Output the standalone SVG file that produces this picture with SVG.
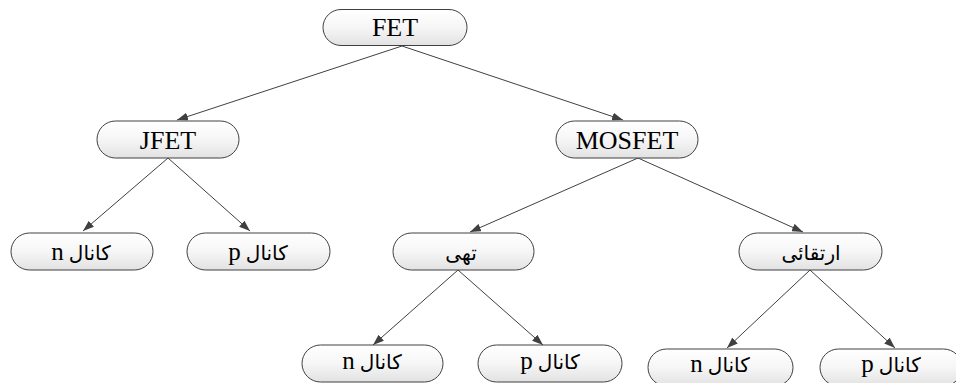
<svg xmlns="http://www.w3.org/2000/svg" width="956" height="383" viewBox="0 0 956 383">
<defs>
<linearGradient id="g" x1="0" y1="0" x2="0" y2="1">
<stop offset="0" stop-color="#ffffff"/>
<stop offset="0.5" stop-color="#f6f6f6"/>
<stop offset="1" stop-color="#e2e2e2"/>
</linearGradient>
<marker id="arr" markerUnits="userSpaceOnUse" markerWidth="11" markerHeight="8" refX="11" refY="4" orient="auto">
<path d="M0,0 L11,4 L0,8 z" fill="#404040"/>
</marker>
</defs>
<style>
.box{fill:url(#g);stroke:#404040;stroke-width:1}
.lat{font-family:"Liberation Serif","Times New Roman",serif;font-size:26px;fill:#000;text-anchor:middle}
.fa{font-family:"Liberation Serif","DejaVu Sans",sans-serif;font-size:20px;fill:#000;text-anchor:middle;direction:rtl;unicode-bidi:embed}
.fa tspan{font-family:"Liberation Serif","Times New Roman",serif;font-size:25px}
.c line{stroke:#404040;stroke-width:1;marker-end:url(#arr)}
</style>
<rect width="956" height="383" fill="#ffffff"/>
<g class="c" id="connectors">
<line x1="402" y1="46" x2="177" y2="120"/>
<line x1="402" y1="46" x2="623" y2="120"/>
<line x1="168" y1="158" x2="83" y2="231"/>
<line x1="168" y1="158" x2="250" y2="231"/>
<line x1="638" y1="158" x2="470" y2="232"/>
<line x1="638" y1="158" x2="803" y2="232"/>
<line x1="458" y1="270" x2="373" y2="345"/>
<line x1="458" y1="270" x2="543" y2="345"/>
<line x1="810" y1="270" x2="727" y2="348"/>
<line x1="810" y1="270" x2="895" y2="348"/>
</g>
<g id="fet"><rect class="box" x="323" y="9.5" width="144" height="36" rx="18"/><text class="lat" x="395" y="35.5">FET</text></g>
<g id="jfet"><rect class="box" x="97" y="121" width="142" height="37" rx="18.5"/><text class="lat" x="168" y="148.5">JFET</text></g>
<g id="mosfet"><rect class="box" x="556" y="121" width="142" height="37" rx="18.5"/><text class="lat" x="627" y="148.5">MOSFET</text></g>
<g id="jn"><rect class="box" x="11" y="233" width="142" height="37" rx="18.5"/><text class="fa" x="81" y="260">کانال <tspan>n</tspan></text></g>
<g id="jp"><rect class="box" x="187" y="233" width="143" height="37" rx="18.5"/><text class="fa" x="258" y="260">کانال <tspan>p</tspan></text></g>
<g id="depl"><rect class="box" x="393" y="233" width="141" height="37" rx="18.5"/><text class="fa" x="461" y="260">تهی</text></g>
<g id="enh"><rect class="box" x="739" y="233" width="143" height="37" rx="18.5"/><text class="fa" x="811" y="260">ارتقائی</text></g>
<g id="dn"><rect class="box" x="302" y="345" width="141" height="37" rx="18.5"/><text class="fa" x="372" y="369">کانال <tspan>n</tspan></text></g>
<g id="dp"><rect class="box" x="478" y="345" width="144" height="37" rx="18.5"/><text class="fa" x="550" y="369">کانال <tspan>p</tspan></text></g>
<g id="en"><rect class="box" x="648" y="349" width="145" height="37" rx="18.5"/><text class="fa" x="720" y="372">کانال <tspan>n</tspan></text></g>
<g id="ep"><rect class="box" x="820" y="349" width="142" height="37" rx="18.5"/><text class="fa" x="891" y="372">کانال <tspan>p</tspan></text></g>
</svg>
